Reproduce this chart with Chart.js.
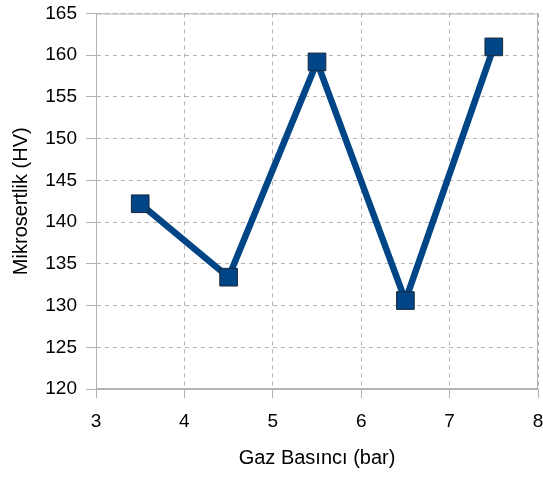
<!DOCTYPE html>
<html>
<head>
<meta charset="utf-8">
<script src="https://cdn.jsdelivr.net/npm/chart.js@4/dist/chart.umd.min.js"></script>
<style>
  html, body { margin: 0; padding: 0; background: #fff; }
  #wrap { width: 543px; height: 477px; }
</style>
</head>
<body>
<div id="wrap"><canvas id="hardnessChart"></canvas></div>
<script>
const gasPressure = [3.5, 4.5, 5.5, 6.5, 7.5];
const microHardness = [142.2, 133.4, 159.2, 130.6, 161.0];
const xTitle = 'Gaz Basıncı (bar)';
const yTitle = 'Mikrosertlik (HV)';

const GRID = '#b3b3b3';
const TEXT = '#000000';
const FONT = "'Liberation Sans', Arial, sans-serif";

// solid frame around the plot area (top/right edges are solid in the original)
const frame = {
    id: 'frame',
    beforeDatasetsDraw(chart) {
        const {ctx, chartArea: a} = chart;
        ctx.save();
        ctx.strokeStyle = GRID;
        ctx.lineWidth = 1;
        ctx.strokeRect(a.left + 0.5, a.top + 0.5, a.right - a.left - 1, a.bottom - a.top - 1);
        ctx.restore();
    }
};

const ctx = document.getElementById('hardnessChart').getContext('2d');
const hardnessChart = new Chart(ctx, {
    type: 'scatter',
    data: {
        datasets: [{
            label: yTitle,
            data: gasPressure.map((x, i) => ({x: x, y: microHardness[i]})),
            showLine: true,
            borderColor: '#004586',
            borderWidth: 6.5,
            pointStyle: 'rect',
            pointRadius: 12.5,
            pointHoverRadius: 12.5,
            pointBackgroundColor: '#004586',
            pointBorderColor: '#1c2a3a',
            pointBorderWidth: 1,
            tension: 0,
            clip: false
        }]
    },
    options: {
        responsive: true,
        maintainAspectRatio: false,
        animation: false,
        layout: { autoPadding: false, padding: { left: 0, right: 5, top: 13.5, bottom: 0 } },
        plugins: {
            legend: { display: false },
            tooltip: { enabled: false }
        },
        scales: {
            x: {
                type: 'linear',
                min: 3,
                max: 8,
                afterFit(scale) {
                    scale.height = 88;
                    scale.paddingLeft = 0;
                    scale.paddingRight = 0;
                },
                ticks: {
                    stepSize: 1,
                    color: TEXT,
                    padding: 12,
                    font: { family: FONT, size: 19 }
                },
                grid: {
                    color: GRID,
                    tickColor: GRID,
                    tickLength: 9,
                    tickBorderDash: []
                },
                border: { color: GRID, dash: [4, 4] },
                title: {
                    display: true,
                    text: xTitle,
                    color: TEXT,
                    font: { family: FONT, size: 20 },
                    padding: { top: 0, bottom: 7 }
                }
            },
            y: {
                min: 120,
                max: 165,
                afterFit(scale) {
                    scale.width = 96;
                    scale.paddingTop = 0;
                    scale.paddingBottom = 0;
                },
                ticks: {
                    stepSize: 5,
                    color: TEXT,
                    padding: 9,
                    font: { family: FONT, size: 19 }
                },
                grid: {
                    color: GRID,
                    tickColor: GRID,
                    tickLength: 10,
                    tickBorderDash: []
                },
                border: { color: GRID, dash: [4, 4] },
                title: {
                    display: true,
                    text: yTitle,
                    color: TEXT,
                    font: { family: FONT, size: 20 },
                    padding: { top: 9, bottom: 0 }
                }
            }
        }
    },
    plugins: [frame]
});
</script>
</body>
</html>
